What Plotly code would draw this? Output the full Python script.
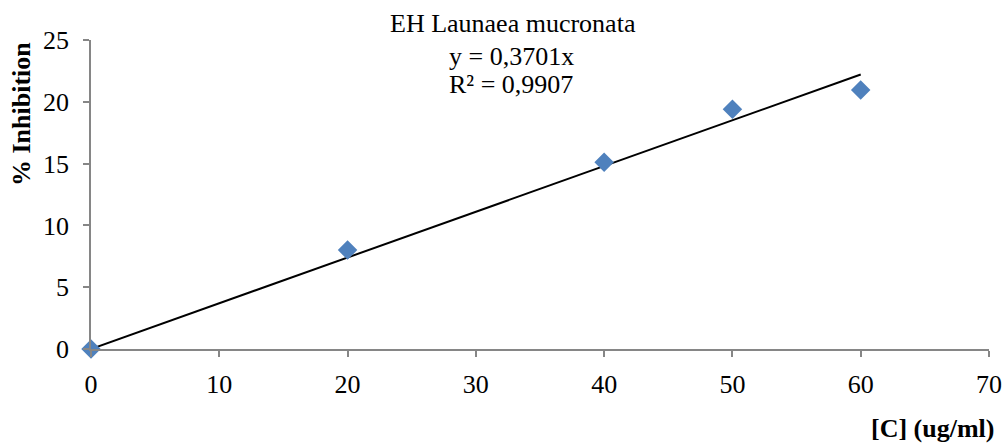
import plotly.graph_objects as go

# Concentration series and measured inhibition
concentration = [0, 20, 40, 50, 60]
inhibition = [0, 8.0, 15.1, 19.4, 20.95]

# Linear fit through the origin (from the regression label)
slope = 0.3701
r_squared = 0.9907
fit_x = [0, 60]
fit_y = [slope * v for v in fit_x]

x_ticks = [0, 10, 20, 30, 40, 50, 60, 70]
y_ticks = [0, 5, 10, 15, 20, 25]

W, H = 1006, 443
L, R, T, B = 91, 17, 40, 94
plot_w = W - L - R
plot_h = H - T - B


def px_x(p):
    return (p - L) / plot_w


def px_y(p):
    return (H - B - p) / plot_h


SERIF = "Liberation Serif, Times New Roman, serif"
AXIS_GRAY = "#868686"
FS = 26

fig = go.Figure()

fig.add_trace(go.Scatter(
    x=fit_x, y=fit_y, mode="lines",
    line=dict(color="black", width=2),
    showlegend=False, hoverinfo="skip", cliponaxis=False,
))

fig.add_trace(go.Scatter(
    x=concentration, y=inhibition, mode="markers",
    marker=dict(symbol="diamond", size=15, color="#4F81BD",
                line=dict(width=0)),
    showlegend=False, cliponaxis=False,
))

axis_common = dict(
    showgrid=False, zeroline=False, showline=True, automargin=False,
    linecolor=AXIS_GRAY, linewidth=1.5,
    ticks="outside", ticklen=6, tickwidth=1.5, tickcolor=AXIS_GRAY,
    tickfont=dict(family=SERIF, size=FS, color="black"),
)

fig.update_layout(
    width=W, height=H,
    margin=dict(l=L, r=R, t=T, b=B, autoexpand=False),
    paper_bgcolor="white", plot_bgcolor="white",
    font=dict(family=SERIF, size=FS, color="black"),
    xaxis=dict(range=[0, 70], tickvals=x_ticks,
               ticktext=[str(v) for v in x_ticks],
               ticklabelstandoff=5, **axis_common),
    yaxis=dict(range=[0, 25], tickvals=y_ticks,
               ticktext=[str(v) for v in y_ticks],
               ticklabelstandoff=9, **axis_common),
)

annotations = [
    dict(text="EH Launaea mucronata", x=px_x(513), y=px_y(23)),
    dict(text="y = " + f"{slope:.4f}".replace(".", ",") + "x",
         x=px_x(447), y=px_y(56), xanchor="left"),
    dict(text="R² = " + f"{r_squared:.4f}".replace(".", ","),
         x=px_x(447), y=px_y(84), xanchor="left"),
    dict(text="<b>[C] (ug/ml)</b>", x=px_x(996), y=px_y(428), xanchor="right"),
    dict(text="<b>% Inhibition</b>", x=px_x(21), y=px_y(114), textangle=-90),
]
for a in annotations:
    a.setdefault("xanchor", "center")
    fig.add_annotation(
        xref="paper", yref="paper", showarrow=False, yanchor="middle",
        font=dict(family=SERIF, size=FS, color="black"), **a,
    )

fig.write_html("out.html")
